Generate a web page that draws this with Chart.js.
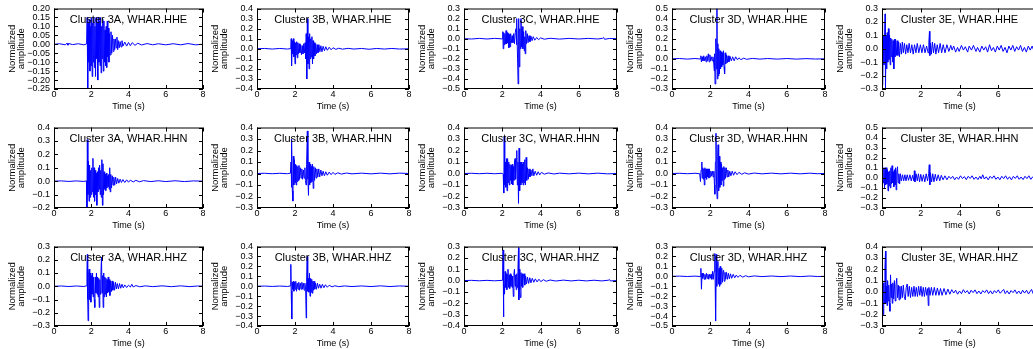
<!DOCTYPE html>
<html>
<head>
<meta charset="utf-8">
<script src="https://cdn.jsdelivr.net/npm/chart.js@4.4.0/dist/chart.umd.min.js"></script>
<style>
  html, body { margin: 0; padding: 0; background: #fff; overflow: hidden; }
  #fig { position: relative; width: 1033px; height: 349px; overflow: hidden; background: #fff; }
  #fig canvas { position: absolute; }
</style>
</head>
<body>
<div id="fig"></div>
<script>
// Waveforms: [time (s), normalized amplitude]
const c3A_HHE = [[0,0],[0.3,0.003],[0.6,-0.003],[0.7,0.006],[0.75,-0.005],[0.8,0.004],[1.0,-0.002],[1.3,0.003],[1.6,-0.003],[1.75,0.002],[1.78,0.15],[1.81,-0.25],[1.84,0.12],[1.87,-0.1],[1.9,0.14],[1.93,-0.15],[1.96,0.1],[1.99,-0.12],[2.02,0.15],[2.05,-0.18],[2.08,0.12],[2.11,-0.1],[2.14,0.15],[2.17,-0.13],[2.2,0.1],[2.23,-0.18],[2.26,0.15],[2.29,-0.08],[2.32,0.12],[2.35,-0.2],[2.38,0.15],[2.41,-0.1],[2.44,0.13],[2.47,-0.12],[2.5,0.15],[2.53,-0.16],[2.56,0.1],[2.59,-0.08],[2.62,0.14],[2.65,-0.15],[2.68,0.13],[2.71,-0.1],[2.74,0.08],[2.77,-0.12],[2.8,0.1],[2.83,-0.13],[2.86,0.13],[2.89,-0.07],[2.92,0.09],[2.95,-0.1],[2.98,0.06],[3.02,-0.06],[3.06,0.07],[3.1,-0.05],[3.14,0.05],[3.18,-0.04],[3.22,0.03],[3.26,-0.03],[3.3,0.03],[3.34,-0.02],[3.38,0.04],[3.42,-0.03],[3.46,0.02],[3.5,-0.02],[3.55,0.015],[3.6,-0.015],[3.65,0.02],[3.7,-0.01],[3.8,0.012],[3.9,-0.01],[4.0,0.01],[4.1,-0.008],[4.2,0.009],[4.35,-0.006],[4.5,0.006],[4.7,-0.004],[5.0,0.004],[5.3,-0.003],[5.6,0.003],[6.0,-0.003],[6.4,0.003],[6.8,-0.003],[7.2,0.004],[7.6,-0.003],[8.0,0]];
const c3B_HHE = [[0,0],[0.4,0.003],[0.8,-0.003],[1.2,0.003],[1.6,-0.003],[1.78,0.002],[1.8,0.1],[1.82,-0.17],[1.85,0.08],[1.88,-0.05],[1.91,0.1],[1.94,-0.08],[1.97,0.07],[2.0,-0.15],[2.03,0.06],[2.06,-0.06],[2.09,0.07],[2.12,-0.09],[2.15,0.06],[2.18,-0.05],[2.22,0.05],[2.26,-0.04],[2.3,0.04],[2.34,-0.06],[2.38,0.03],[2.42,-0.05],[2.46,0.05],[2.5,-0.04],[2.53,0.06],[2.56,-0.1],[2.59,0.15],[2.62,-0.3],[2.65,0.3],[2.68,-0.15],[2.71,0.12],[2.74,-0.2],[2.77,0.15],[2.8,-0.1],[2.83,0.1],[2.86,-0.08],[2.89,0.12],[2.92,-0.15],[2.95,0.08],[2.98,-0.1],[3.01,0.06],[3.05,-0.07],[3.09,0.05],[3.13,-0.05],[3.17,0.04],[3.21,-0.04],[3.26,0.04],[3.31,-0.03],[3.36,0.03],[3.42,-0.03],[3.48,0.025],[3.55,-0.02],[3.62,0.02],[3.7,-0.015],[3.8,0.015],[3.9,-0.01],[4.0,0.01],[4.15,-0.006],[4.3,0.005],[4.5,-0.004],[4.8,0.004],[5.1,-0.003],[5.5,0.003],[5.9,-0.005],[6.3,0.003],[6.7,-0.003],[7.1,0.003],[7.5,-0.003],[8.0,0]];
const c3C_HHE = [[0,0],[0.4,-0.003],[0.8,0.003],[1.2,-0.003],[1.6,0.003],[2.0,-0.002],[2.03,0.07],[2.05,-0.1],[2.08,0.06],[2.11,-0.06],[2.14,0.05],[2.17,-0.05],[2.2,0.08],[2.23,-0.05],[2.26,0.06],[2.29,-0.04],[2.32,0.05],[2.35,-0.09],[2.38,0.04],[2.41,-0.08],[2.44,0.05],[2.48,-0.04],[2.52,0.03],[2.56,-0.04],[2.6,0.05],[2.64,-0.05],[2.68,0.06],[2.72,0.1],[2.74,-0.06],[2.77,0.2],[2.8,-0.2],[2.83,-0.45],[2.86,0.2],[2.89,-0.28],[2.92,0.1],[2.95,-0.1],[2.98,0.2],[3.01,-0.08],[3.04,0.12],[3.08,-0.1],[3.12,0.07],[3.15,-0.12],[3.18,0.02],[3.2,-0.15],[3.23,0.08],[3.27,-0.05],[3.31,0.05],[3.35,-0.04],[3.4,0.03],[3.45,-0.03],[3.5,0.025],[3.56,-0.02],[3.62,0.02],[3.7,-0.015],[3.8,0.012],[3.9,-0.01],[4.0,0.008],[4.2,-0.005],[4.5,0.004],[5.0,-0.004],[5.5,0.003],[6.0,-0.003],[6.5,0.003],[7.0,-0.003],[7.25,0.004],[7.3,0.012],[7.35,-0.006],[7.6,0.002],[8.0,0]];
const c3D_HHE = [[0,0],[0.4,0.003],[0.8,-0.003],[1.2,0.003],[1.48,-0.002],[1.51,0.03],[1.54,-0.03],[1.58,0.02],[1.62,-0.02],[1.66,0.03],[1.7,-0.02],[1.74,0.02],[1.78,-0.03],[1.82,0.03],[1.86,-0.02],[1.9,0.05],[1.94,-0.03],[1.98,0.04],[2.02,-0.02],[2.06,0.02],[2.1,-0.02],[2.14,0.02],[2.18,-0.04],[2.21,-0.12],[2.23,0.05],[2.25,-0.25],[2.28,0.1],[2.3,0.2],[2.32,-0.1],[2.35,0.5],[2.37,-0.2],[2.4,0.15],[2.42,-0.17],[2.45,0.1],[2.48,-0.15],[2.51,0.08],[2.54,-0.1],[2.57,0.07],[2.6,-0.08],[2.63,0.06],[2.66,-0.06],[2.69,0.08],[2.72,-0.08],[2.75,-0.15],[2.78,0.06],[2.81,-0.05],[2.85,0.04],[2.89,-0.04],[2.93,0.03],[2.98,-0.03],[3.03,0.025],[3.1,-0.02],[3.17,0.02],[3.25,-0.02],[3.33,0.02],[3.42,-0.01],[3.5,0.01],[3.6,-0.008],[3.75,0.006],[3.9,-0.005],[4.2,0.004],[4.6,-0.003],[5.0,0.003],[5.5,-0.003],[6.0,0.003],[6.5,-0.003],[7.0,0.002],[7.5,-0.002],[8.0,0]];
const c3E_HHE = [[0,0],[0.02,0.2],[0.04,-0.27],[0.07,0.1],[0.1,-0.12],[0.13,0.05],[0.16,0.26],[0.18,-0.29],[0.21,0.1],[0.24,-0.15],[0.27,0.12],[0.3,-0.1],[0.33,0.15],[0.36,-0.08],[0.39,0.1],[0.42,-0.12],[0.45,0.08],[0.48,-0.06],[0.51,0.07],[0.55,-0.1],[0.58,0.06],[0.61,-0.15],[0.64,0.07],[0.67,-0.06],[0.7,0.07],[0.74,-0.05],[0.78,0.06],[0.82,-0.05],[0.86,0.05],[0.9,-0.06],[0.95,0.04],[1.0,-0.04],[1.05,0.05],[1.1,-0.03],[1.16,0.04],[1.22,-0.04],[1.28,0.03],[1.34,-0.03],[1.4,0.04],[1.47,-0.03],[1.54,0.03],[1.61,-0.04],[1.68,0.03],[1.75,-0.03],[1.82,0.04],[1.9,-0.03],[1.98,0.03],[2.06,-0.03],[2.14,0.03],[2.22,-0.03],[2.3,0.02],[2.38,-0.03],[2.42,0.05],[2.45,0.13],[2.47,-0.05],[2.5,0.04],[2.55,-0.04],[2.6,0.05],[2.66,-0.03],[2.72,0.04],[2.78,-0.04],[2.85,0.03],[2.92,-0.03],[3.0,0.04],[3.08,-0.03],[3.16,0.03],[3.25,-0.03],[3.35,0.03],[3.45,-0.02],[3.55,0.025],[3.62,-0.01],[3.7,0.02],[3.8,-0.025],[3.9,0.01],[3.98,-0.02],[4.1,0.025],[4.2,-0.01],[4.3,0.015],[4.42,-0.025],[4.5,0.02],[4.62,-0.01],[4.72,0.025],[4.85,-0.02],[4.93,0.01],[5.05,-0.025],[5.15,0.02],[5.25,-0.01],[5.35,0.015],[5.45,-0.025],[5.55,0.03],[5.65,-0.015],[5.75,0.01],[5.85,-0.025],[5.95,0.02],[6.05,-0.01],[6.15,0.025],[6.25,-0.02],[6.35,0.01],[6.45,-0.03],[6.55,0.02],[6.65,-0.01],[6.75,0.025],[6.85,-0.02],[6.95,0.015],[7.05,-0.01],[7.15,0.025],[7.25,-0.02],[7.35,0.01],[7.45,-0.025],[7.55,0.02],[7.65,-0.01],[7.75,0.02],[7.85,-0.02],[7.95,0.01],[8.0,0]];

const c3A_HHN = [[0,0],[0.4,0.002],[0.8,-0.002],[1.2,0.002],[1.6,-0.002],[1.74,0.002],[1.77,-0.2],[1.79,0.31],[1.82,-0.1],[1.85,0.15],[1.88,-0.15],[1.91,0.12],[1.94,-0.12],[1.97,0.08],[2.0,-0.1],[2.03,0.1],[2.06,-0.08],[2.09,0.17],[2.12,-0.12],[2.15,0.1],[2.18,-0.15],[2.21,0.08],[2.24,-0.1],[2.27,0.06],[2.3,-0.18],[2.33,0.07],[2.36,-0.08],[2.39,0.1],[2.42,-0.06],[2.45,0.12],[2.48,-0.1],[2.51,0.08],[2.54,-0.12],[2.57,0.16],[2.6,-0.18],[2.63,0.13],[2.66,-0.1],[2.69,0.07],[2.72,-0.06],[2.75,0.05],[2.78,-0.07],[2.81,0.06],[2.84,-0.05],[2.87,0.04],[2.9,-0.04],[2.93,0.05],[2.96,-0.06],[2.99,0.1],[3.02,-0.08],[3.05,0.05],[3.09,-0.05],[3.13,0.04],[3.17,-0.03],[3.21,0.03],[3.26,-0.03],[3.31,0.03],[3.36,-0.02],[3.42,0.02],[3.48,-0.015],[3.55,0.015],[3.62,-0.01],[3.7,0.012],[3.8,-0.01],[3.9,0.01],[4.0,-0.008],[4.1,0.008],[4.25,-0.006],[4.4,0.006],[4.6,-0.005],[4.8,0.004],[5.2,-0.003],[5.6,0.003],[6.0,-0.003],[6.5,0.003],[7.0,-0.003],[7.5,0.002],[8.0,0]];
const c3B_HHN = [[0,0],[0.4,0.002],[0.8,-0.002],[1.2,0.002],[1.6,-0.002],[1.76,0.003],[1.79,0.1],[1.81,-0.12],[1.83,0.3],[1.86,-0.15],[1.89,-0.24],[1.91,0.15],[1.94,-0.1],[1.97,0.12],[2.0,-0.08],[2.03,0.08],[2.06,-0.1],[2.09,0.07],[2.12,-0.07],[2.15,0.06],[2.18,-0.06],[2.21,0.07],[2.24,-0.05],[2.28,0.05],[2.32,-0.04],[2.36,0.04],[2.4,-0.05],[2.44,0.03],[2.48,-0.04],[2.52,0.05],[2.55,-0.06],[2.58,-0.1],[2.61,0.08],[2.65,0.37],[2.68,-0.05],[2.71,-0.19],[2.74,0.1],[2.77,-0.1],[2.8,0.08],[2.83,-0.08],[2.86,0.06],[2.89,-0.07],[2.92,0.08],[2.96,-0.13],[2.99,0.06],[3.03,-0.06],[3.07,0.05],[3.11,-0.04],[3.15,0.04],[3.2,-0.03],[3.25,0.04],[3.3,-0.03],[3.36,0.03],[3.42,-0.02],[3.48,0.02],[3.55,-0.02],[3.62,0.015],[3.7,-0.015],[3.8,0.012],[3.9,-0.01],[4.0,0.01],[4.1,-0.008],[4.25,0.006],[4.45,-0.005],[4.7,0.004],[5.0,-0.003],[5.5,0.003],[6.0,-0.003],[6.5,0.003],[7.0,-0.003],[7.5,0.003],[8.0,0]];
const c3C_HHN = [[0,0],[0.4,0.002],[0.8,-0.002],[1.2,0.002],[1.6,-0.002],[2.0,0.002],[2.05,-0.005],[2.08,-0.17],[2.1,0.32],[2.13,-0.1],[2.16,0.1],[2.19,-0.12],[2.22,0.13],[2.25,-0.15],[2.28,0.13],[2.31,-0.08],[2.34,0.1],[2.37,-0.1],[2.4,0.08],[2.43,-0.06],[2.46,0.07],[2.49,-0.09],[2.52,0.08],[2.55,-0.1],[2.58,0.06],[2.61,-0.06],[2.64,0.1],[2.67,0.13],[2.7,-0.05],[2.73,0.1],[2.76,0.2],[2.79,-0.1],[2.82,0.1],[2.85,-0.26],[2.88,0.22],[2.91,-0.15],[2.94,0.1],[2.97,-0.1],[3.0,0.1],[3.03,-0.08],[3.06,0.08],[3.09,-0.1],[3.12,0.1],[3.15,-0.08],[3.18,0.12],[3.21,-0.1],[3.25,0.14],[3.28,-0.06],[3.32,0.05],[3.36,-0.05],[3.4,0.04],[3.45,-0.03],[3.5,0.03],[3.55,-0.02],[3.6,0.04],[3.65,-0.02],[3.72,0.02],[3.8,-0.015],[3.88,0.015],[3.96,-0.012],[4.05,0.01],[4.2,-0.006],[4.4,0.005],[4.7,-0.004],[5.0,0.003],[5.5,-0.003],[6.0,0.003],[6.5,-0.003],[7.0,0.003],[7.5,-0.003],[8.0,0]];
const c3D_HHN = [[0,0],[0.4,0.002],[0.8,-0.002],[1.2,0.002],[1.45,-0.002],[1.49,-0.07],[1.52,0.03],[1.56,0.1],[1.58,-0.04],[1.61,0.05],[1.64,-0.05],[1.67,0.04],[1.69,-0.1],[1.72,0.05],[1.75,-0.04],[1.78,0.04],[1.81,-0.05],[1.84,0.04],[1.87,-0.03],[1.9,0.04],[1.93,-0.04],[1.96,0.04],[1.99,-0.03],[2.03,0.02],[2.07,-0.02],[2.11,0.02],[2.15,-0.03],[2.19,0.02],[2.22,-0.1],[2.24,-0.18],[2.27,0.1],[2.3,0.35],[2.33,-0.1],[2.36,-0.22],[2.39,0.15],[2.41,0.25],[2.44,-0.15],[2.47,0.15],[2.5,-0.12],[2.53,0.1],[2.56,-0.1],[2.59,0.08],[2.62,-0.06],[2.65,0.05],[2.68,-0.11],[2.71,0.06],[2.74,-0.05],[2.77,0.05],[2.8,-0.04],[2.84,0.05],[2.88,-0.03],[2.92,0.03],[2.97,-0.03],[3.02,0.02],[3.08,-0.02],[3.15,0.02],[3.22,-0.015],[3.3,0.015],[3.4,-0.01],[3.5,0.01],[3.65,-0.007],[3.8,0.006],[4.0,-0.005],[4.3,0.004],[4.7,-0.003],[5.2,0.003],[5.7,-0.003],[6.2,0.003],[6.7,-0.003],[7.2,0.003],[7.6,-0.002],[8.0,0]];
const c3E_HHN = [[0,0],[0.01,-0.3],[0.04,0.13],[0.07,-0.05],[0.1,0.1],[0.13,-0.1],[0.16,0.1],[0.19,-0.07],[0.22,0.1],[0.25,-0.06],[0.28,0.08],[0.31,-0.13],[0.34,0.06],[0.37,-0.08],[0.4,0.07],[0.43,-0.1],[0.46,0.1],[0.49,-0.06],[0.52,0.12],[0.55,-0.05],[0.58,0.06],[0.61,-0.09],[0.64,0.08],[0.67,-0.07],[0.7,0.1],[0.73,-0.12],[0.76,0.06],[0.8,0.11],[0.83,-0.05],[0.87,0.04],[0.91,-0.06],[0.95,0.04],[1.0,-0.03],[1.06,0.03],[1.12,-0.03],[1.18,0.03],[1.24,-0.03],[1.3,0.03],[1.37,-0.025],[1.44,0.03],[1.51,-0.03],[1.58,0.025],[1.64,-0.03],[1.67,0.07],[1.7,-0.04],[1.76,0.04],[1.82,-0.03],[1.88,0.04],[1.94,-0.04],[2.0,0.035],[2.07,-0.035],[2.14,0.03],[2.21,-0.04],[2.28,0.04],[2.35,-0.03],[2.41,0.04],[2.44,0.13],[2.47,-0.07],[2.5,0.05],[2.56,-0.04],[2.62,0.04],[2.68,-0.04],[2.75,0.035],[2.82,-0.03],[2.9,0.03],[2.98,-0.03],[3.06,0.025],[3.15,-0.02],[3.25,0.02],[3.35,-0.02],[3.45,0.015],[3.55,-0.008],[3.65,0.015],[3.75,-0.02],[3.85,0.008],[3.95,-0.015],[4.05,0.02],[4.15,-0.008],[4.25,0.012],[4.35,-0.018],[4.45,0.015],[4.55,-0.006],[4.65,0.02],[4.75,-0.015],[4.85,0.008],[4.95,-0.018],[5.05,0.015],[5.12,-0.01],[5.2,0.03],[5.28,-0.012],[5.38,0.01],[5.48,-0.02],[5.58,0.015],[5.68,-0.006],[5.78,0.02],[5.88,-0.015],[5.98,0.008],[6.08,-0.02],[6.18,0.015],[6.28,-0.008],[6.38,0.02],[6.48,-0.015],[6.58,0.01],[6.68,-0.02],[6.78,0.015],[6.88,-0.006],[6.98,0.02],[7.08,-0.015],[7.18,0.008],[7.28,-0.018],[7.38,0.015],[7.48,-0.008],[7.58,0.02],[7.68,-0.015],[7.78,0.01],[7.88,-0.018],[8.0,0]];

const c3A_HHZ = [[0,0],[0.4,0.002],[0.8,-0.002],[1.2,0.002],[1.6,-0.002],[1.74,0.003],[1.77,0.1],[1.79,0.24],[1.81,-0.1],[1.83,-0.26],[1.86,0.1],[1.89,0.13],[1.92,-0.1],[1.95,0.1],[1.98,-0.12],[2.01,0.08],[2.04,-0.06],[2.07,0.1],[2.1,-0.08],[2.13,0.07],[2.16,-0.1],[2.19,-0.16],[2.22,0.07],[2.25,-0.05],[2.28,0.1],[2.31,-0.06],[2.34,0.07],[2.37,-0.08],[2.4,0.06],[2.43,-0.16],[2.46,0.05],[2.49,-0.06],[2.52,0.1],[2.55,0.22],[2.58,-0.05],[2.61,0.08],[2.64,-0.16],[2.67,0.1],[2.7,-0.08],[2.73,0.07],[2.76,-0.06],[2.79,0.06],[2.82,-0.08],[2.85,0.05],[2.88,-0.05],[2.91,0.07],[2.94,-0.04],[2.97,0.05],[3.0,-0.07],[3.04,0.04],[3.08,-0.04],[3.12,0.04],[3.16,-0.03],[3.2,0.03],[3.25,-0.03],[3.3,0.03],[3.35,-0.02],[3.4,0.02],[3.46,-0.02],[3.52,0.02],[3.58,-0.015],[3.65,0.015],[3.72,-0.012],[3.8,0.01],[3.9,-0.01],[4.0,0.008],[4.1,-0.006],[4.18,0.015],[4.25,-0.005],[4.4,0.005],[4.6,-0.004],[4.9,0.003],[5.3,-0.003],[5.8,0.003],[6.3,-0.003],[6.8,0.003],[7.3,-0.003],[7.7,0.002],[8.0,0]];
const c3B_HHZ = [[0,0],[0.4,0.002],[0.8,-0.002],[1.2,0.002],[1.6,-0.002],[1.76,0.003],[1.78,0.22],[1.8,-0.05],[1.83,-0.33],[1.85,0.04],[1.88,-0.03],[1.91,0.05],[1.94,-0.05],[1.97,0.04],[2.0,-0.03],[2.04,0.05],[2.08,-0.05],[2.12,0.03],[2.16,-0.03],[2.2,0.04],[2.24,-0.04],[2.28,0.03],[2.32,-0.03],[2.36,0.04],[2.4,-0.03],[2.44,0.03],[2.48,-0.04],[2.52,0.03],[2.56,-0.03],[2.59,-0.32],[2.61,0.05],[2.64,0.3],[2.67,-0.05],[2.7,0.08],[2.73,-0.06],[2.76,0.13],[2.79,-0.1],[2.82,0.08],[2.85,-0.06],[2.88,0.07],[2.91,-0.07],[2.94,0.05],[2.97,-0.04],[3.0,0.05],[3.04,-0.03],[3.08,0.03],[3.13,-0.03],[3.18,0.03],[3.24,-0.02],[3.3,0.02],[3.37,-0.02],[3.44,0.02],[3.52,-0.015],[3.6,0.015],[3.7,-0.01],[3.8,0.01],[3.95,-0.006],[4.1,0.005],[4.3,-0.004],[4.6,0.003],[5.0,-0.003],[5.5,0.003],[6.0,-0.003],[6.5,0.004],[7.0,-0.003],[7.5,0.003],[8.0,0]];
const c3C_HHZ = [[0,0],[0.4,0.002],[0.8,-0.002],[1.2,0.002],[1.6,-0.002],[2.0,0.002],[2.02,0.05],[2.04,0.27],[2.06,-0.32],[2.09,0.05],[2.12,-0.12],[2.15,0.08],[2.18,-0.06],[2.21,0.06],[2.24,-0.08],[2.27,0.05],[2.3,0.1],[2.33,-0.06],[2.36,0.05],[2.39,-0.07],[2.42,0.06],[2.45,-0.05],[2.48,0.05],[2.51,-0.06],[2.54,0.04],[2.58,-0.14],[2.61,0.06],[2.64,0.1],[2.67,-0.05],[2.7,0.05],[2.73,-0.08],[2.76,0.06],[2.79,-0.06],[2.82,0.08],[2.85,0.29],[2.87,-0.17],[2.9,0.1],[2.92,-0.08],[2.95,-0.15],[2.98,0.07],[3.01,-0.05],[3.04,0.06],[3.07,-0.06],[3.1,0.04],[3.14,0.06],[3.18,-0.04],[3.22,0.04],[3.27,-0.03],[3.32,0.03],[3.38,-0.025],[3.44,0.025],[3.5,-0.02],[3.57,0.02],[3.65,-0.015],[3.73,0.015],[3.82,-0.012],[3.92,0.012],[4.02,-0.01],[4.15,0.008],[4.3,-0.006],[4.5,0.005],[4.8,-0.004],[5.2,0.004],[5.6,-0.003],[6.0,0.003],[6.4,-0.003],[6.8,0.003],[7.2,-0.003],[7.55,0.003],[7.6,0.01],[7.65,-0.003],[8.0,0]];
const c3D_HHZ = [[0,0],[0.4,0.002],[0.8,-0.002],[1.2,0.002],[1.48,-0.002],[1.51,0.08],[1.54,-0.13],[1.57,0.03],[1.6,-0.02],[1.64,0.03],[1.68,-0.03],[1.72,0.02],[1.76,-0.03],[1.8,0.03],[1.84,-0.02],[1.88,0.02],[1.92,-0.03],[1.96,0.02],[2.0,-0.02],[2.04,0.02],[2.08,-0.03],[2.12,0.05],[2.16,-0.03],[2.2,0.05],[2.24,0.23],[2.26,-0.1],[2.28,-0.45],[2.31,0.22],[2.34,-0.1],[2.37,0.1],[2.4,0.15],[2.43,-0.08],[2.46,0.08],[2.49,-0.1],[2.52,0.1],[2.55,-0.08],[2.58,0.07],[2.61,0.08],[2.64,-0.06],[2.67,0.05],[2.7,0.06],[2.73,-0.05],[2.77,0.04],[2.81,-0.03],[2.85,0.04],[2.9,-0.03],[2.95,0.03],[3.0,-0.025],[3.06,0.025],[3.12,-0.02],[3.2,0.02],[3.28,-0.015],[3.36,0.012],[3.45,-0.01],[3.55,0.01],[3.7,-0.008],[3.85,0.006],[4.0,-0.005],[4.3,0.004],[4.7,-0.003],[5.2,0.003],[5.7,-0.003],[6.2,0.003],[6.7,-0.003],[7.2,0.003],[7.6,-0.002],[8.0,0]];
const c3E_HHZ = [[0,0],[0.03,0.1],[0.06,-0.2],[0.09,0.08],[0.12,-0.1],[0.15,0.2],[0.18,0.36],[0.2,-0.1],[0.23,0.05],[0.26,-0.12],[0.29,0.1],[0.32,-0.08],[0.35,0.06],[0.38,-0.1],[0.41,-0.17],[0.44,0.15],[0.47,-0.05],[0.5,0.07],[0.53,-0.1],[0.56,0.08],[0.6,-0.06],[0.64,0.1],[0.68,-0.08],[0.72,0.06],[0.76,0.12],[0.8,-0.05],[0.84,0.06],[0.88,-0.07],[0.92,0.05],[0.96,-0.06],[1.0,0.05],[1.05,-0.05],[1.1,0.06],[1.15,-0.04],[1.2,-0.07],[1.25,0.04],[1.3,0.07],[1.35,-0.04],[1.41,0.05],[1.47,-0.05],[1.53,0.04],[1.59,-0.04],[1.65,0.05],[1.71,-0.04],[1.77,0.04],[1.83,-0.04],[1.89,0.05],[1.95,-0.03],[2.01,0.05],[2.07,-0.04],[2.13,0.04],[2.19,-0.04],[2.25,0.04],[2.31,-0.03],[2.36,0.03],[2.39,-0.12],[2.42,0.04],[2.48,-0.03],[2.55,0.04],[2.62,-0.03],[2.7,0.04],[2.78,-0.03],[2.86,0.035],[2.94,-0.03],[3.02,0.03],[3.1,-0.03],[3.2,0.03],[3.3,-0.025],[3.4,0.025],[3.5,-0.02],[3.6,0.02],[3.7,-0.01],[3.8,0.015],[3.9,-0.02],[4.0,0.008],[4.1,-0.015],[4.2,0.02],[4.3,-0.008],[4.4,0.012],[4.5,-0.018],[4.6,0.015],[4.7,-0.006],[4.8,0.018],[4.9,-0.015],[5.0,0.008],[5.1,-0.018],[5.2,0.012],[5.3,-0.006],[5.4,0.018],[5.5,-0.015],[5.6,0.01],[5.7,-0.018],[5.8,0.012],[5.9,-0.008],[6.0,0.018],[6.1,-0.012],[6.2,0.008],[6.28,0.022],[6.36,-0.015],[6.46,0.01],[6.56,-0.018],[6.66,0.012],[6.76,-0.006],[6.86,0.018],[6.96,-0.015],[7.06,0.008],[7.16,-0.018],[7.26,0.015],[7.36,-0.01],[7.46,0.015],[7.56,-0.018],[7.66,0.008],[7.72,0.022],[7.8,-0.015],[7.9,0.01],[8.0,0]];

const clusters = ['3A', '3B', '3C', '3D', '3E'];
const channels = ['HHE', 'HHN', 'HHZ'];
const traces = [
  [c3A_HHE, c3B_HHE, c3C_HHE, c3D_HHE, c3E_HHE],
  [c3A_HHN, c3B_HHN, c3C_HHN, c3D_HHN, c3E_HHN],
  [c3A_HHZ, c3B_HHZ, c3C_HHZ, c3D_HHZ, c3E_HHZ]
];
// y axis [min, max, step] of each panel
const yAxes = [
  [[-0.25, 0.2, 0.05], [-0.4, 0.4, 0.1], [-0.5, 0.3, 0.1], [-0.3, 0.5, 0.1], [-0.3, 0.3, 0.1]],
  [[-0.2, 0.4, 0.1], [-0.3, 0.4, 0.1], [-0.3, 0.4, 0.1], [-0.3, 0.4, 0.1], [-0.3, 0.5, 0.1]],
  [[-0.3, 0.3, 0.1], [-0.4, 0.4, 0.1], [-0.4, 0.3, 0.1], [-0.5, 0.3, 0.1], [-0.3, 0.4, 0.1]]
];
const timeAxis = [0, 8, 2];

// panel placement (plot area in page pixels)
const colLeft = [54, 257, 464, 672, 882];
const colWidth = [149, 152, 153, 153, 155];
const rowTop = [6, 125, 244];
const rowHeight = [83, 83, 82];
const axisW = 54, padTop = 6, padRight = 8, axisH = 30;

Chart.defaults.font.family = '"Liberation Sans", Arial, Helvetica, sans-serif';
Chart.defaults.color = '#000';

// box around the plot and inward ticks on all four sides
const frameTicks = {
  id: 'frameTicks',
  afterDraw(chart) {
    const {ctx, chartArea: a, scales} = chart;
    ctx.save();
    ctx.strokeStyle = '#000';
    ctx.lineWidth = 1;
    ctx.strokeRect(a.left + 0.5, a.top + 0.5, a.right - a.left - 1, a.bottom - a.top - 1);
    ctx.beginPath();
    scales.x.ticks.forEach(t => {
      const px = Math.round(scales.x.getPixelForValue(t.value)) + 0.5;
      ctx.moveTo(px, a.bottom); ctx.lineTo(px, a.bottom - 4);
      ctx.moveTo(px, a.top); ctx.lineTo(px, a.top + 4);
    });
    scales.y.ticks.forEach(t => {
      const py = Math.round(scales.y.getPixelForValue(t.value)) + 0.5;
      ctx.moveTo(a.left, py); ctx.lineTo(a.left + 4, py);
      ctx.moveTo(a.right, py); ctx.lineTo(a.right - 4, py);
    });
    ctx.stroke();
    ctx.restore();
  }
};

// label written inside the top of each panel
const panelTitle = {
  id: 'panelTitle',
  afterDatasetsDraw(chart, args, opts) {
    const {ctx, chartArea: a} = chart;
    ctx.save();
    ctx.font = '11px "Liberation Sans", Arial, sans-serif';
    ctx.fillStyle = '#000';
    ctx.textAlign = 'center';
    ctx.textBaseline = 'middle';
    ctx.fillText(opts.text, (a.left + a.right) / 2, a.top + 11);
    ctx.restore();
  }
};

function fmt(v, dec) {
  if (Math.abs(v) < 1e-9) v = 0;
  return v.toFixed(dec).replace('-', '\u2212');
}

const fig = document.getElementById('fig');

for (let r = 0; r < 3; r++) {
  for (let c = 0; c < 5; c++) {
    const cv = document.createElement('canvas');
    const w = axisW + colWidth[c] + padRight;
    const h = padTop + rowHeight[r] + axisH;
    cv.width = w;
    cv.height = h;
    cv.style.width = w + 'px';
    cv.style.height = h + 'px';
    cv.style.left = (colLeft[c] - axisW) + 'px';
    cv.style.top = (rowTop[r] - padTop) + 'px';
    fig.appendChild(cv);

    const [yMin, yMax, yStep] = yAxes[r][c];
    const dec = yStep < 0.1 ? 2 : 1;

    new Chart(cv.getContext('2d'), {
      type: 'line',
      data: {
        datasets: [{
          data: traces[r][c].map(p => ({x: p[0], y: p[1]})),
          borderColor: '#0000ff',
          borderWidth: 1,
          pointRadius: 0,
          tension: 0,
          fill: false
        }]
      },
      options: {
        responsive: false,
        animation: false,
        devicePixelRatio: 1,
        layout: {padding: {top: padTop, right: padRight, left: 0, bottom: 0}},
        plugins: {
          legend: {display: false},
          tooltip: {enabled: false},
          panelTitle: {text: 'Cluster ' + clusters[c] + ', WHAR.' + channels[r]}
        },
        scales: {
          x: {
            type: 'linear',
            min: timeAxis[0],
            max: timeAxis[1],
            grid: {display: false, drawTicks: false},
            border: {display: false},
            ticks: {stepSize: timeAxis[2], autoSkip: false, maxRotation: 0, padding: 0, font: {size: 9}},
            title: {display: true, text: 'Time (s)', font: {size: 9}, padding: {top: 0, bottom: 7}},
            afterFit(s) { s.height = axisH; }
          },
          y: {
            type: 'linear',
            min: yMin,
            max: yMax,
            grid: {display: false, drawTicks: false},
            border: {display: false},
            ticks: {
              stepSize: yStep,
              autoSkip: false,
              padding: 4,
              font: {size: 9, lineHeight: 1},
              callback: v => fmt(v, dec)
            },
            title: {
              display: true,
              text: ['Normalized', 'amplitude'],
              font: {size: 9.5, lineHeight: 0.95},
              padding: {top: 7.5, bottom: 0}
            },
            afterFit(s) { s.width = axisW; }
          }
        }
      },
      plugins: [frameTicks, panelTitle]
    });
  }
}
</script>
</body>
</html>
